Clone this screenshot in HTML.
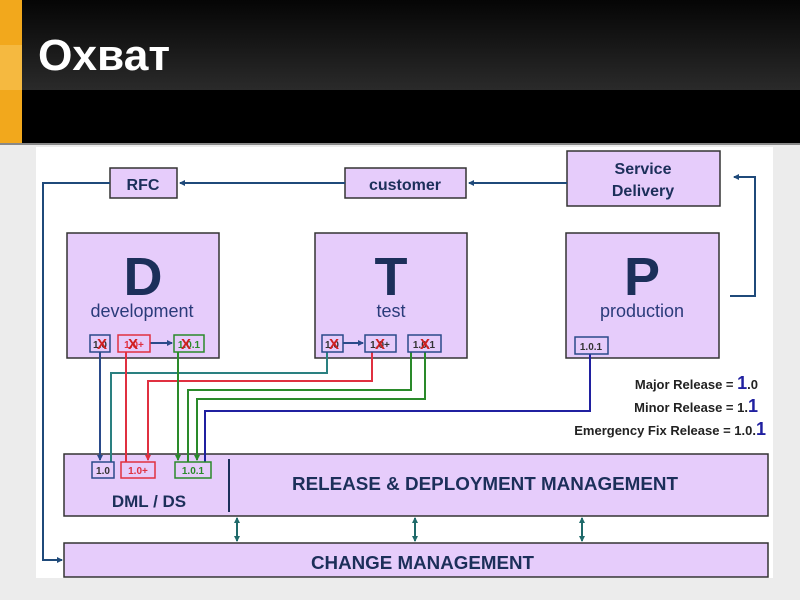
<!DOCTYPE html>
<html><head><meta charset="utf-8"><style>
html,body{margin:0;padding:0;width:800px;height:600px;overflow:hidden;background:#ececec}
svg{display:block}
text{font-family:"Liberation Sans",sans-serif;font-weight:bold}
</style></head><body>
<svg width="800" height="600" viewBox="0 0 800 600">
<defs>
<linearGradient id="hg" x1="0" y1="0" x2="0" y2="1"><stop offset="0" stop-color="#050505"/><stop offset="1" stop-color="#2a2a2a"/></linearGradient>
<marker id="a" markerWidth="6" markerHeight="6" refX="5" refY="3" orient="auto-start-reverse" markerUnits="userSpaceOnUse"><path d="M0,0 L6,3 L0,6z" fill="context-stroke"/></marker>
</defs>
<rect x="0" y="0" width="800" height="90" fill="url(#hg)"/>
<rect x="0" y="90" width="800" height="53" fill="#000"/>
<rect x="0" y="0" width="22" height="143" fill="#f2a81c"/>
<rect x="0" y="45" width="22" height="45" fill="#f5b940"/>
<text x="38" y="70" font-size="44" fill="#fff" textLength="132" lengthAdjust="spacingAndGlyphs">Охват</text>
<rect x="0" y="143" width="800" height="2" fill="#888"/>
<rect x="36" y="147" width="737" height="431" fill="#fff"/>

<g stroke="#333" stroke-width="1.5" fill="#e6ccfb">
<rect x="110" y="168" width="67" height="30"/>
<rect x="345" y="168" width="121" height="30"/>
<rect x="567" y="151" width="153" height="55"/>
<rect x="67" y="233" width="152" height="125"/>
<rect x="315" y="233" width="152" height="125"/>
<rect x="566" y="233" width="153" height="125"/>
<rect x="64" y="454" width="704" height="62"/>
<rect x="64" y="543" width="704" height="34"/>
</g>
<g fill="#1c2f5a" text-anchor="middle">
<text x="143" y="190" font-size="16">RFC</text>
<text x="405" y="190" font-size="16">customer</text>
<text x="643" y="174" font-size="16">Service</text>
<text x="643" y="196" font-size="16">Delivery</text>
<text x="143" y="295" font-size="54">D</text>
<text x="391" y="295" font-size="54">T</text>
<text x="642" y="295" font-size="54">P</text>
<text x="149" y="507" font-size="17">DML / DS</text>
</g>
<g fill="#1c2f5a">
<text x="292" y="490" font-size="18" textLength="386" lengthAdjust="spacingAndGlyphs">RELEASE &amp; DEPLOYMENT MANAGEMENT</text>
<text x="311" y="569" font-size="18" textLength="223" lengthAdjust="spacingAndGlyphs">CHANGE MANAGEMENT</text>
</g>
<g fill="#2a3b7a" text-anchor="middle" font-size="18">
<text x="142" y="317" style="font-weight:normal">development</text>
<text x="391" y="317" style="font-weight:normal">test</text>
<text x="642" y="317" style="font-weight:normal">production</text>
</g>
<line x1="229" y1="459" x2="229" y2="512" stroke="#1c2f5a" stroke-width="2"/>

<g stroke="#1f4a7a" stroke-width="2" fill="none">
<line x1="567" y1="183" x2="469" y2="183" marker-end="url(#a)"/>
<line x1="345" y1="183" x2="180" y2="183" marker-end="url(#a)"/>
<polyline points="110,183 43,183 43,560 62,560" marker-end="url(#a)"/>
<polyline points="730,296 755,296 755,177 734,177" marker-end="url(#a)"/>
</g>
<g stroke="#1f6a6a" stroke-width="2">
<line x1="237" y1="518" x2="237" y2="541" marker-end="url(#a)" marker-start="url(#a)"/>
<line x1="415" y1="518" x2="415" y2="541" marker-end="url(#a)" marker-start="url(#a)"/>
<line x1="582" y1="518" x2="582" y2="541" marker-end="url(#a)" marker-start="url(#a)"/>
</g>

<g fill="none" stroke-width="2">
<line x1="100" y1="352" x2="100" y2="460" stroke="#2a4a8a" marker-end="url(#a)"/>
<polyline points="327,352 327,373 111,373 111,462" stroke="#2a8080"/>
<line x1="126" y1="352" x2="126" y2="462" stroke="#e03040"/>
<polyline points="372,352 372,381 148,381 148,460" stroke="#e03040" marker-end="url(#a)"/>
<line x1="178" y1="352" x2="178" y2="460" stroke="#2a8a2a" marker-end="url(#a)"/>
<polyline points="411,352 411,390 188,390 188,462" stroke="#2a8a2a"/>
<polyline points="425,352 425,399 197,399 197,460" stroke="#2a8a2a" marker-end="url(#a)"/>
<polyline points="590,354 590,411 205,411 205,462" stroke="#2020a0"/>
<line x1="150" y1="343" x2="172" y2="343" stroke="#2a4a8a" marker-end="url(#a)"/>
<line x1="343" y1="343" x2="363" y2="343" stroke="#2a4a8a" marker-end="url(#a)"/>
</g>

<g stroke-width="1.5" fill="#e6ccfb">
<rect x="90" y="335" width="20" height="17" stroke="#2a4a8a"/>
<rect x="118" y="335" width="32" height="17" stroke="#e03040"/>
<rect x="174" y="335" width="30" height="17" stroke="#2a8a2a"/>
<rect x="322" y="335" width="21" height="17" stroke="#2a4a8a"/>
<rect x="365" y="335" width="31" height="17" stroke="#2a4a8a"/>
<rect x="408" y="335" width="33" height="17" stroke="#2a4a8a"/>
<rect x="575" y="337" width="33" height="17" stroke="#2a4a8a"/>
<rect x="92" y="462" width="22" height="16" stroke="#2a4a8a"/>
<rect x="121" y="462" width="34" height="16" stroke="#e03040"/>
<rect x="175" y="462" width="36" height="16" stroke="#2a8a2a"/>
</g>
<g font-size="10" text-anchor="middle">
<text x="100" y="348" fill="#333">1.0</text>
<text x="134" y="348" fill="#e03040">1.0+</text>
<text x="189" y="348" fill="#2a8a2a">1.0.1</text>
<text x="332" y="348" fill="#333">1.0</text>
<text x="380" y="348" fill="#333">1.0+</text>
<text x="424" y="348" fill="#333">1.0.1</text>
<text x="591" y="350" fill="#333">1.0.1</text>
<text x="103" y="474" fill="#333">1.0</text>
<text x="138" y="474" fill="#e03040">1.0+</text>
<text x="193" y="474" fill="#2a8a2a">1.0.1</text>
</g>
<g fill="#d02020" font-size="15" text-anchor="middle">
<text x="102" y="349">X</text><text x="133" y="349">X</text><text x="186" y="349">X</text>
<text x="334" y="349">X</text><text x="380" y="349">X</text><text x="425" y="349">X</text>
</g>

<g fill="#222" font-size="13" text-anchor="end">
<text x="758" y="389">Major Release  = <tspan fill="#2020a0" font-size="18">1</tspan>.0</text>
<text x="758" y="412">Minor Release = 1.<tspan fill="#2020a0" font-size="18">1</tspan></text>
<text x="766" y="435">Emergency Fix Release  = 1.0.<tspan fill="#2020a0" font-size="18">1</tspan></text>
</g>
</svg>
</body></html>
